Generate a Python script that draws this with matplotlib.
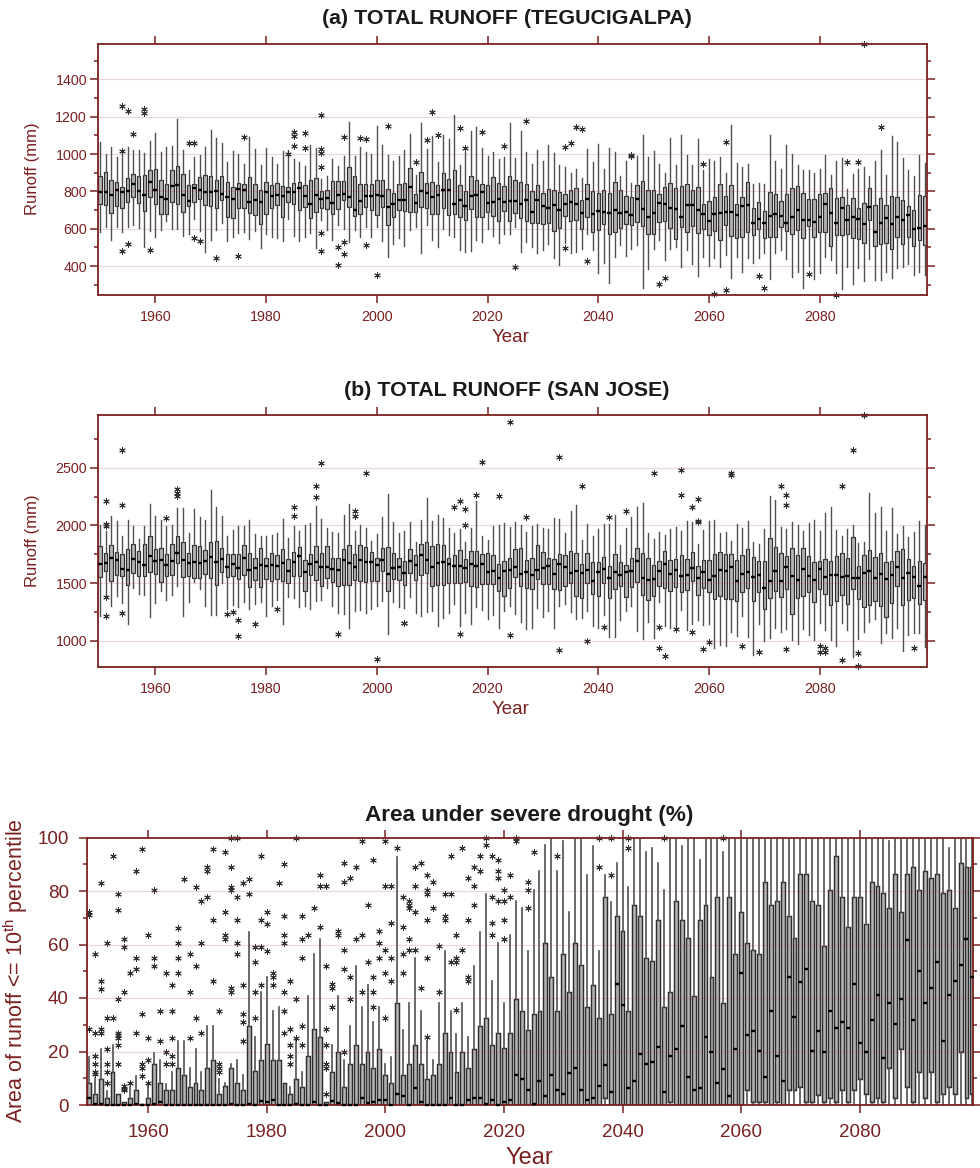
import matplotlib
matplotlib.use('Agg')
import numpy as np
import matplotlib.pyplot as plt
from matplotlib.ticker import MultipleLocator

plt.rcParams['font.family'] = ['Liberation Sans', 'DejaVu Sans']
plt.rcParams['mathtext.fontset'] = 'custom'
plt.rcParams['mathtext.rm'] = 'Liberation Sans'

years = np.arange(1950, 2100)

# %% (a) Tegucigalpa, mm, 1950-2099
a_med = [795,797,783,805,798,803,838,803,778,850, 808,768,758,830,832,780,750,820,805,797,
         795,800,785,770,760,812,805,745,755,745, 797,775,778,775,798,795,820,775,735,780,
         760,765,738,782,788,770,702,748,773,773, 779,777,716,734,752,752,823,740,802,791,
         770,782,807,805,731,752,722,773,780,798, 740,743,759,743,748,750,732,756,688,756,
         722,709,725,702,732,741,734,684,761,679, 697,692,684,699,686,690,672,757,706,661,
         686,740,734,713,708,663,729,729,700,679, 642,677,684,688,688,674,720,729,629,654,
         628,668,679,667,631,661,702,645,647,638, 663,732,684,633,711,647,663,654,626,718,
         580,633,658,624,665,645,674,596,603,617]
a_q1 = [730,725,685,720,710,745,770,740,695,770, 730,680,680,745,735,690,720,745,760,725,
        720,710,755,665,660,710,710,685,675,625, 680,710,725,665,745,730,700,715,655,690,
        711,708,680,708,752,716,667,680,716,699, 672,716,619,663,699,693,688,688,716,713,
        681,681,711,676,679,663,649,708,663,663, 690,668,640,693,640,684,660,640,628,628,
        624,631,587,604,668,644,645,596,663,585, 592,624,571,580,604,624,622,635,615,571,
        571,635,642,604,546,610,580,613,578,601, 565,588,539,619,562,548,556,583,565,596,
        548,553,553,610,588,571,592,548,613,553, 583,581,508,565,564,574,548,544,524,645,
        507,517,521,489,556,516,556,507,542,512]
a_q3 = [880,905,860,850,825,870,895,885,890,915, 920,860,840,915,935,895,835,840,875,890,
        880,860,880,850,825,845,840,875,840,805, 850,835,845,830,825,845,850,835,860,870,
        800,808,858,855,858,933,880,837,841,841, 862,859,814,793,841,846,926,788,903,846,
        852,832,900,868,916,834,802,880,862,841, 832,878,844,828,884,859,852,839,800,836,
        789,811,807,796,788,809,818,756,841,802, 791,805,791,850,805,777,770,832,853,805,
        807,788,823,846,818,830,837,809,825,732, 748,770,841,773,836,731,770,848,709,743,
        697,795,786,750,788,818,827,791,759,761, 784,791,816,763,770,729,766,711,740,816,
        727,763,725,773,771,756,724,700,779,775]
a_lo = [585,610,540,610,580,610,620,605,500,590, 555,595,640,600,600,560,570,650,590,475,
        540,595,630,535,555,575,585,545,590,495, 570,555,550,535,650,560,535,555,575,495,
        645,592,542,620,600,530,592,553,610,553, 610,533,450,517,548,508,592,610,468,619,
        539,503,601,565,553,485,476,482,539,528, 601,560,521,574,571,610,476,530,500,468,
        485,517,441,405,524,468,476,494,571,485, 364,418,308,446,512,455,494,512,281,384,
        494,539,432,489,500,396,485,411,348,450, 400,441,396,459,334,450,370,441,418,441,
        468,329,468,485,436,340,370,281,400,332, 364,450,432,361,276,393,304,388,322,436,
        325,325,370,336,388,396,411,352,370,352]
a_hi = [1065,1000,1040,985,1000,1035,1020,1020,1005,1070, 1110,1010,1035,1045,1190,1020,915,985,995,1040,
        1130,1085,1060,955,1015,1000,945,1090,1025,940, 1030,985,945,1015,1020,975,955,935,1050,1030,
        868,885,974,935,992,1173,992,1036,1010,1001, 1148,1049,997,965,987,1019,1107,889,1166,1028,
        1095,956,1102,1079,1211,939,1013,1122,1143,1033, 988,1013,974,983,1164,980,1122,1013,948,1019,
        965,1049,1004,940,930,900,921,871,1028,960, 1054,921,1031,1010,882,962,844,988,1100,983,
        1017,948,901,1084,939,1100,997,939,1079,916, 974,962,985,900,1157,951,933,944,837,844,
        841,1104,962,921,1047,999,939,916,917,898, 921,996,889,962,981,811,894,921,930,885,
        962,1019,887,1099,1067,980,912,884,994,953]
a_out_years = [1954,1955,1958,1958,1956,1954,1954,1955,1959,1966,1967,1967,1968,1971,1975,1976,
               1984,1985,1985,1985,1987,1987,1990,1990,1990,1990,1990,1990,1993,1993,1994,1994,
               1994,1997,1998,1998,2000,2002,2007,2009,2010,2011,2015,2016,2019,2023,2025,2027,
               2034,2034,2035,2036,2037,2038,2046,2046,2059,2061,2063,2063,2051,2052,2069,2070,
               2078,2083,2085,2087,2088,2091]
a_out_vals = [1258,1232,1243,1222,1108,1018,483,517,485,1058,1060,550,535,445,452,1090,
              1002,1120,1095,1045,1115,1032,1211,1028,1007,928,578,482,405,500,462,530,
              1092,1088,1081,514,352,1148,956,1077,1223,1102,1140,1033,1118,1042,395,1179,
              1036,498,1058,1143,1136,427,995,992,944,251,1067,272,302,336,348,281,
              355,245,960,958,1587,1145]

# %% (b) San Jose, mm, 1950-2099
b_med = [1665,1677,1717,1697,1626,1610,1712,1686,1657,1732, 1688,1697,1654,1691,1758,1703,1674,1683,1677,1691,
         1729,1686,1712,1639,1665,1633,1714,1613,1630,1654, 1651,1654,1645,1674,1604,1680,1732,1593,1662,1686,
         1636,1642,1626,1616,1697,1674,1639,1700,1683,1686, 1654,1700,1581,1633,1642,1587,1688,1654,1741,1703,
         1636,1671,1680,1668,1648,1645,1630,1668,1651,1665, 1596,1607,1541,1601,1613,1642,1575,1593,1567,1613,
         1633,1651,1581,1662,1642,1584,1604,1584,1616,1520, 1593,1622,1543,1593,1572,1599,1604,1694,1543,1529,
         1538,1607,1662,1575,1616,1561,1570,1633,1541,1599, 1529,1561,1616,1607,1639,1514,1578,1593,1552,1567,
         1459,1514,1601,1514,1639,1558,1523,1625,1558,1526, 1625,1549,1567,1572,1552,1558,1546,1543,1584,1607,
         1541,1581,1532,1572,1642,1541,1584,1555,1474,1552]
b_q1 = [1549,1601,1514,1572,1563,1483,1587,1558,1563,1596, 1575,1512,1563,1572,1674,1552,1558,1543,1543,1578,
        1543,1483,1593,1549,1563,1532,1567,1465,1526,1465, 1538,1520,1538,1520,1500,1563,1561,1428,1567,1529,
        1471,1543,1512,1471,1486,1480,1523,1514,1509,1514, 1514,1601,1433,1538,1529,1486,1587,1529,1572,1587,
        1477,1486,1480,1500,1500,1500,1506,1471,1465,1491, 1494,1491,1428,1390,1457,1549,1471,1457,1451,1538,
        1491,1491,1448,1442,1477,1500,1390,1370,1500,1404, 1384,1500,1367,1451,1471,1378,1462,1506,1393,1355,
        1390,1471,1454,1433,1468,1419,1442,1517,1396,1454, 1425,1361,1384,1361,1361,1341,1419,1457,1344,1422,
        1277,1370,1428,1378,1445,1234,1370,1384,1419,1332, 1448,1407,1306,1347,1393,1320,1448,1364,1294,1312,
        1347,1297,1202,1326,1477,1309,1355,1370,1318,1355]
b_q3 = [1825,1758,1828,1767,1755,1796,1839,1781,1839,1912, 1796,1804,1752,1839,1906,1859,1761,1828,1819,1784,
        1854,1868,1801,1755,1752,1752,1833,1761,1720,1804, 1714,1761,1746,1796,1709,1767,1813,1697,1755,1825,
        1758,1822,1717,1720,1796,1830,1752,1828,1810,1767, 1717,1807,1810,1758,1717,1691,1796,1741,1843,1858,
        1820,1837,1828,1714,1743,1784,1712,1775,1781,1749, 1758,1746,1668,1691,1714,1793,1804,1700,1720,1830,
        1767,1720,1709,1749,1746,1781,1758,1668,1761,1686, 1680,1723,1645,1752,1680,1657,1714,1801,1758,1717,
        1657,1688,1775,1703,1709,1743,1706,1772,1645,1700, 1697,1749,1766,1749,1749,1697,1743,1795,1723,1694,
        1694,1891,1813,1761,1735,1804,1743,1801,1737,1682, 1691,1711,1691,1732,1758,1717,1897,1651,1740,1790,
        1723,1758,1680,1694,1781,1795,1709,1648,1691,1677]
b_lo = [1216,1384,1297,1384,1325,1143,1456,1404,1398,1204, 1325,1433,1355,1395,1471,1216,1338,1506,1451,1297,
        1225,1219,1500,1277,1306,1291,1332,1274,1320,1332, 1216,1297,1355,1143,1375,1369,1291,1303,1274,1343,
        1355,1456,1297,1239,1233,1109,1254,1268,1239,1277, 1297,1346,1059,1338,1291,1283,1378,1239,1210,1248,
        1254,1123,1196,1239,1317,1123,1239,1146,1288,1262, 1190,1219,1109,1254,1297,1228,1161,1100,1109,1283,
        1204,1259,1106,1297,1317,1248,1190,1196,1254,1123, 1109,1225,1030,1030,1181,1254,1297,1086,1013,1158,
        1022,1332,1124,1109,1124,1263,1089,1147,1181,1132, 1141,935,958,955,1074,1037,1216,1031,877,1147,
        993,1022,1109,1074,1100,1001,970,1100,1051,1001, 1152,1094,1008,950,1152,1094,857,1016,1071,1158,
        1187,979,1066,1019,1106,906,1051,1066,1066,941]
b_hi = [2007,1949,2085,2036,1912,2045,1993,1886,1993,2187, 2080,2045,1999,2007,2152,2149,1935,2143,2074,2045,
        2306,2158,2080,1906,1964,1996,1993,2051,1926,1912, 1906,1917,1935,2057,1891,1999,1949,2007,2022,2172,
        2057,1978,1943,1935,2094,2190,1955,2007,1978,1862, 1929,2071,2277,2030,1935,1949,2028,1857,2045,2243,
        2039,2094,2065,1978,1935,1972,1857,1978,2217,1906, 1878,1993,2004,2022,1987,2033,2007,1943,1993,2013,
        1978,1970,2062,2057,1935,2122,2175,1874,2010,1912, 1970,2016,2010,2091,1833,1978,2074,2159,2199,1938,
        1883,1943,1920,1969,1987,1955,2039,2030,1842,1963, 2036,2047,1934,1943,1862,2015,1981,2039,1853,1839,
        1966,2253,2224,1984,1969,2030,2004,1955,2021,2044, 1952,2108,2160,1960,1905,1966,2007,1847,1853,2282,
        2108,2160,1952,2152,1926,1992,1900,1940,2036,2004]
b_out_years = [1951,1951,1951,1951,1951,1954,1954,1954,1962,1964,1964,1964,1973,1974,1975,1975,
               1978,1982,1985,1985,1989,1989,1990,1993,1996,1996,1998,2000,2005,2005,2014,2015,
               2015,2016,2016,2018,2019,2022,2024,2024,2027,2033,2033,2037,2038,2041,2042,2045,
               2050,2051,2051,2052,2054,2055,2055,2057,2057,2058,2058,2058,2059,2060,2064,2064,
               2066,2069,2073,2074,2074,2074,2080,2080,2081,2081,2084,2084,2086,2087,2087,2088,2097]
b_out_vals = [2210,2013,1993,1381,1213,2657,2178,1239,2065,2317,2283,2254,1233,1245,1181,1042,
              1141,1274,2161,2086,2343,2248,2543,1057,2126,2080,2457,842,1152,1157,2161,2216,
              1059,2143,2007,2262,2549,2259,2903,1045,2074,2591,915,2343,993,1114,2071,2122,
              2456,1115,935,869,1097,2485,2262,2160,1074,2233,2030,2036,930,985,2456,2435,
              950,898,2343,2262,2180,927,953,903,938,898,2346,828,2658,895,779,2962,935]

# %% (c) area under severe drought, %, 1950-2099
c_med = [2.5,0.3,0.5,0,0,0,0,0,0.3,0, 0,0.3,1,0,0,0,0,0,0,0,
         0,0,0,0,0.3,0,0,0.3,0,1.6, 1,1.8,0,0,0,0.4,0,0,1,0,
         0,1.4,0.6,0,0,0,2.7,0.6,1.1,1.9, 1.9,0,4,3.4,0,6.2,1.2,0,0,0,
         0,2.6,0,0,1.9,2.5,2.6,0.5,1.9,0, 1.2,2,11.2,9.8,5.5,0.5,9.1,3.5,11.2,5.6,
         4.1,11.8,14,5.5,2,2.6,7,14.8,4.7,45.2, 37.4,6.2,9.1,18.9,15.4,16.2,21.8,4.7,18.3,21,
         29.7,10.5,5.5,6.2,25.3,19.7,8.4,13.3,3.4,21, 49.4,26,27.6,20.3,10.5,35.3,18.2,9,48,33,
         45.9,50.7,20.3,27.6,19.7,35.3,28.9,31,28.9,45.3, 23.2,19.7,31.7,41,17.6,38.2,30.3,39.7,61.5,31.7,
         50.1,38.2,43.8,53.6,24,41,46.5,52.2,62,48]
c_q1 = [0]*87 + [2.5,0,0, 0,0,0,0,0,0,0,0,1.2,0,
        0,0,0,0,0,0,0,0,0,0, 0,5.6,1,1,1,0,1,0,5.6,5.6,
        6.9,1,1,3.7,1,2.5,1,5.6,1,5.6, 9.9,4.1,1.2,2.7,1.2,14,2.7,21,6.9,1,
        12.5,2.7,12.5,1.2,4.1,6.9,4.1,19.7,2.7,4.1]
c_q3 = [8.4,4,9.9,2.7,12.5,4,1.2,2.7,5.5,0.4, 2.7,15.3,8.4,5.6,5.6,14,11.2,6.9,8.4,5.5,
        14,16.8,4.1,7,14,8.4,5.5,29.7,12.6,16.8, 22.7,16.8,16.8,8.4,4.1,9.9,6.9,18.3,28.3,25.4,
        1,12.5,19.7,6.9,15.3,22.4,15.3,19.7,13.9,21, 11.1,8.2,38,11.2,15.3,22.4,15.3,9.6,11.2,15.3,
        26.8,19.7,12.5,19.7,13.9,21,29.5,32.4,22.4,26.8, 21.2,26.8,39.5,35.2,28,33.9,35.2,60.6,47.9,35.2,
        56.4,42.3,60.6,52.2,36.6,45,32.4,77.8,33.9,70.6, 65,35.2,74.8,70.6,55,53.7,69.1,36.6,42.3,76.4,
        69.2,62.3,40.9,69.2,74.9,48,77.8,38,77.8,56.6, 72.2,60.7,58,56.6,83.4,74.9,76.4,83.4,70.8,62.3,
        86.2,86.2,76.4,74.9,59.5,80.5,93.1,77.8,66.5,77.8, 77.8,67.8,83.4,81.9,79.2,73.7,86.2,72.2,86.2,88.9,
        80.5,87.5,84.7,86.2,79.2,80.5,73.7,90.4,88.9,88.9]
c_hi = [18,10,21,5.4,22.3,4,1.2,6.9,11,0.4, 7,19.6,16.8,8,12.5,24,24,14,21,12.5,
        29.5,29.5,9.7,8.4,15.3,16.8,11.2,64.8,25.3,42.4, 48,35.3,36.8,8.4,6.9,24,12.5,40.9,56.5,62,
        1,22.4,40.7,16.8,29.5,52,36.7,45,30.9,36.5, 15.3,18,92.8,28,38,54.8,35,23.9,16.8,38,
        57.7,35,26.5,38,25.3,52,64.8,79,46.5,60.6, 38,63.4,76.2,73.5,57.7,80.3,87.4,97.1,100,87.4,
        98.6,72,100,100,86,97,57.7,86,76,90.3, 100,81.6,100,100,94.4,95.9,90.3,80.3,100,100,
        97,100,100,91.6,100,100,100,94.5,100,100, 100,100,100,100,100,100,100,100,100,100,
        100,100,100,100,100,100,100,100,100,100, 100,100,100,100,100,98.8,100,100,100,100,
        100,100,100,100,100,96,100,100,100,100]
c_out_years = [1950,1950,1950,1951,1951,1951,1951,1951,1951,1952,1952,1952,1952,1952,1953,1953,1953,1953,1953,1953,
               1954,1954,1955,1955,1955,1955,1955,1955,1955,1955,1956,1956,1956,1956,1956,1956,1957,1957,1958,1958,1958,1958,
               1959,1959,1959,1959,1959,1960,1960,1960,1960,1961,1961,1961,1962,1962,1963,1963,1963,1964,1964,1964,1964,1964,
               1965,1965,1965,1965,1966,1967,1967,1967,1968,1968,1968,1969,1969,1969,1970,1970,1970,1971,1971,1971,
               1972,1972,1972,1972,1973,1973,1973,1973,1974,1974,1974,1974,1974,1974,1975,1975,1975,1975,1975,
               1976,1976,1976,1976,1976,1977,1977,1978,1978,1978,1978,1979,1979,1979,1979,1980,1980,1980,1981,1981,1981,1982,
               1983,1983,1983,1983,1983,1983,1983,1984,1984,1984,1984,1984,1985,1985,1985,1986,1986,1986,1986,1986,1987,1988,
               1989,1989,1989,1990,1990,1990,1990,1990,1990,1990,1991,1991,1991,1992,1992,1993,1993,1993,1993,1993,
               1994,1994,1994,1995,1995,1996,1996,1996,1997,1997,1998,1998,1998,1998,1999,1999,1999,
               2000,2000,2000,2000,2000,2001,2001,2001,2001,2002,2003,2003,2003,2003,2004,2004,2004,2004,2004,
               2005,2005,2005,2005,2006,2006,2007,2007,2007,2007,2007,2007,2008,2008,2009,2009,2010,2010,2010,
               2011,2011,2011,2012,2012,2012,2012,2013,2013,2014,2014,2014,2014,2015,2015,2015,2016,2016,2017,2017,
               2018,2018,2018,2018,2019,2019,2019,2019,2020,2020,2020,2020,2021,2021,2022,2022,2024,2024,2024,
               2025,2029,2036,2036,2038,2038,2041,2041,2047,2057]
c_out_vals = [71,72,28.3,27,56.3,18.3,15.5,12.5,11.5,83,46.5,43.5,28.3,27,60.6,32.4,21,15.3,12.5,8.4,
              93,32.4,79,73,39.5,27,26,25,22.5,15.5,62,59.2,42.3,7,6,5.5,49.3,8.4,87.3,55,50.7,27,
              95.8,34,15.5,14,11,63.5,25,17,8.4,80.3,55,52,35.3,24,49.3,19.7,15.5,45,35.3,25,18.3,15.5,
              66.2,60.6,55,49.3,84.6,56.4,42.3,25,81.6,52,32.4,76.3,60.6,26.8,89,87.5,77.7,95.8,69,46.5,
              35.3,15.5,14,12.5,94.4,72,63.5,62,100,88.8,81.6,80.2,43.8,42.3,100,77.7,69,60.6,56.4,
              83,45,34,31,24,84.6,79,59.2,53.5,42.3,32.4,93,69,59.2,45,72,67.8,57.7,49.3,48,45,83,
              90.2,70.5,63.5,60.6,42.3,35.3,26.8,46.5,28.3,22.5,18.3,15.5,100,39.5,25,70.6,62,55,29.5,22.4,63.5,73.5,
              86,81.8,66.4,81.8,52,28.3,22.4,15.3,14,4,45.2,43.8,36.7,65,63.5,90.3,83.2,57.9,50.7,19.7,
              84.7,47.9,39.5,88.8,62.1,98.8,63.5,42.3,74.8,53.5,91.5,47.9,42.3,36.7,65,60.6,55,
              98.8,81.8,57.9,49.4,32.4,81.8,67.9,55,46.5,95.9,77.8,66.4,56.4,49.4,76.3,74.8,73.5,62.1,57.9,
              88.8,81.8,72.1,57.9,90.3,43.8,86,80.3,79,69.2,55,25.3,83.2,73.5,59.4,42.3,79,70.6,69.1,
              93,79,53.5,63.5,55,53.5,35.4,95.9,57.9,84.7,69.2,47.9,46.5,88.8,81.8,74.8,93,87.4,100,97.3,
              93,77.8,67.9,63.5,91.5,87.4,84.7,76.3,80.3,76.2,69.2,62.1,86,77.8,100,98.6,83.2,80.3,73.5,
              94.4,93,100,88.8,100,86,100,95.9,100,100]

a_yticks = [400, 600, 800, 1000, 1200, 1400]
b_yticks = [1000, 1500, 2000, 2500]
c_yticks = [0, 20, 40, 60, 80, 100]
xticks = [1960, 1980, 2000, 2020, 2040, 2060, 2080]

RED = '#7a2020'


def make_axes(left, top, right, bottom):
    return fig.add_axes([left/980, 1 - bottom/1168, (right - left)/980, (bottom - top)/1168])


def panel(ax, med, q1, q3, lo, hi, out_years, out_vals, xlim, ylim, yticks, yminor, fsize, bwidth, blw, wlw):
    stats = []
    out_years = np.array(out_years)
    out_vals = np.array(out_vals)
    for i, yr in enumerate(years):
        stats.append(dict(med=med[i], q1=q1[i], q3=q3[i], whislo=lo[i], whishi=hi[i],
                          fliers=out_vals[out_years == yr]))
    ax.set_yticks(yticks)
    ax.bxp(stats, positions=years, widths=bwidth, patch_artist=True, showcaps=False,
           manage_ticks=False,
           boxprops=dict(facecolor='#b4b4b4', edgecolor='#2e2e2e', lw=blw),
           whiskerprops=dict(color='#505050', lw=wlw),
           medianprops=dict(lw=0),
           flierprops=dict(marker=(6, 2, 0), markersize=4.6, markeredgecolor='#303030',
                           markeredgewidth=0.7, clip_on=False))
    ax.plot(years, med, ls='', marker='_', ms=3.4, mew=1.7, color='black', zorder=6, clip_on=False)
    # translucent grid on top so it shows through the boxes like the original
    for t in yticks:
        ax.axhline(t, color='#a83c3c', lw=0.8, alpha=0.2, zorder=5)
    ax.set_xlim(*xlim)
    ax.set_ylim(*ylim)
    ax.set_xticks(xticks)
    ax.yaxis.set_minor_locator(MultipleLocator(yminor))
    for s in ax.spines.values():
        s.set_color(RED)
        s.set_linewidth(1.3)
    ax.tick_params(axis='both', which='major', direction='out', length=6, width=1.1,
                   color=RED, labelcolor=RED, labelsize=fsize,
                   top=True, right=True)
    ax.tick_params(axis='y', which='minor', direction='out', length=3.2, width=1.1,
                   color=RED, left=True, right=True)


fig = plt.figure(figsize=(9.8, 11.68), dpi=100)

# %% panel a
ax1 = make_axes(97.5, 43.5, 926.5, 295)
panel(ax1, a_med, a_q1, a_q3, a_lo, a_hi, a_out_years, a_out_vals,
      (1949.55, 2099.3), (245, 1592), a_yticks, 100, 10.3, 0.62, 0.85, 1.0)
ax1.tick_params(axis='y', which='major', pad=1.5)
ax1.tick_params(axis='x', which='major', pad=5)

# %% panel b
ax2 = make_axes(97.5, 415, 926.5, 666.5)
panel(ax2, b_med, b_q1, b_q3, b_lo, b_hi, b_out_years, b_out_vals,
      (1949.55, 2099.3), (775, 2960), b_yticks, 250, 10.3, 0.62, 0.85, 1.0)
ax2.tick_params(axis='y', which='major', pad=1.5)
ax2.tick_params(axis='x', which='major', pad=5)

# %% panel c
ax3 = make_axes(87, 837.5, 973, 1105)
panel(ax3, c_med, c_q1, c_q3, [0]*150, c_hi, c_out_years, c_out_vals,
      (1949.7, 2099.1), (0, 100), c_yticks, 10, 13.5, 0.66, 1.05, 1.2)
ax3.tick_params(axis='y', which='major', pad=7)
ax3.tick_params(axis='x', which='major', pad=8)


def label(x, y, s, **kw):
    fig.text(x/980, 1 - y/1168, s, ha='center', va='center', **kw)


label(507, 18, '(a) TOTAL RUNOFF (TEGUCIGALPA)', fontsize=15.4, fontweight='bold', color='#1a1a1a')
label(507, 390, '(b) TOTAL RUNOFF (SAN JOSE)', fontsize=15.4, fontweight='bold', color='#1a1a1a')
label(529, 816, 'Area under severe drought (%)', fontsize=16.2, fontweight='bold', color='#1a1a1a')
label(32, 169, 'Runoff (mm)', fontsize=12, color=RED, rotation=90)
label(32, 541, 'Runoff (mm)', fontsize=12, color=RED, rotation=90)
label(16, 971, r'Area of runoff <= 10$^{\mathrm{th}}$ percentile', fontsize=15.5, color=RED, rotation=90)
label(511, 338, 'Year', fontsize=13.5, color=RED)
label(511, 710, 'Year', fontsize=13.5, color=RED)
label(529, 1158, 'Year', fontsize=17, color=RED)

fig.savefig('out.png', dpi=100)
